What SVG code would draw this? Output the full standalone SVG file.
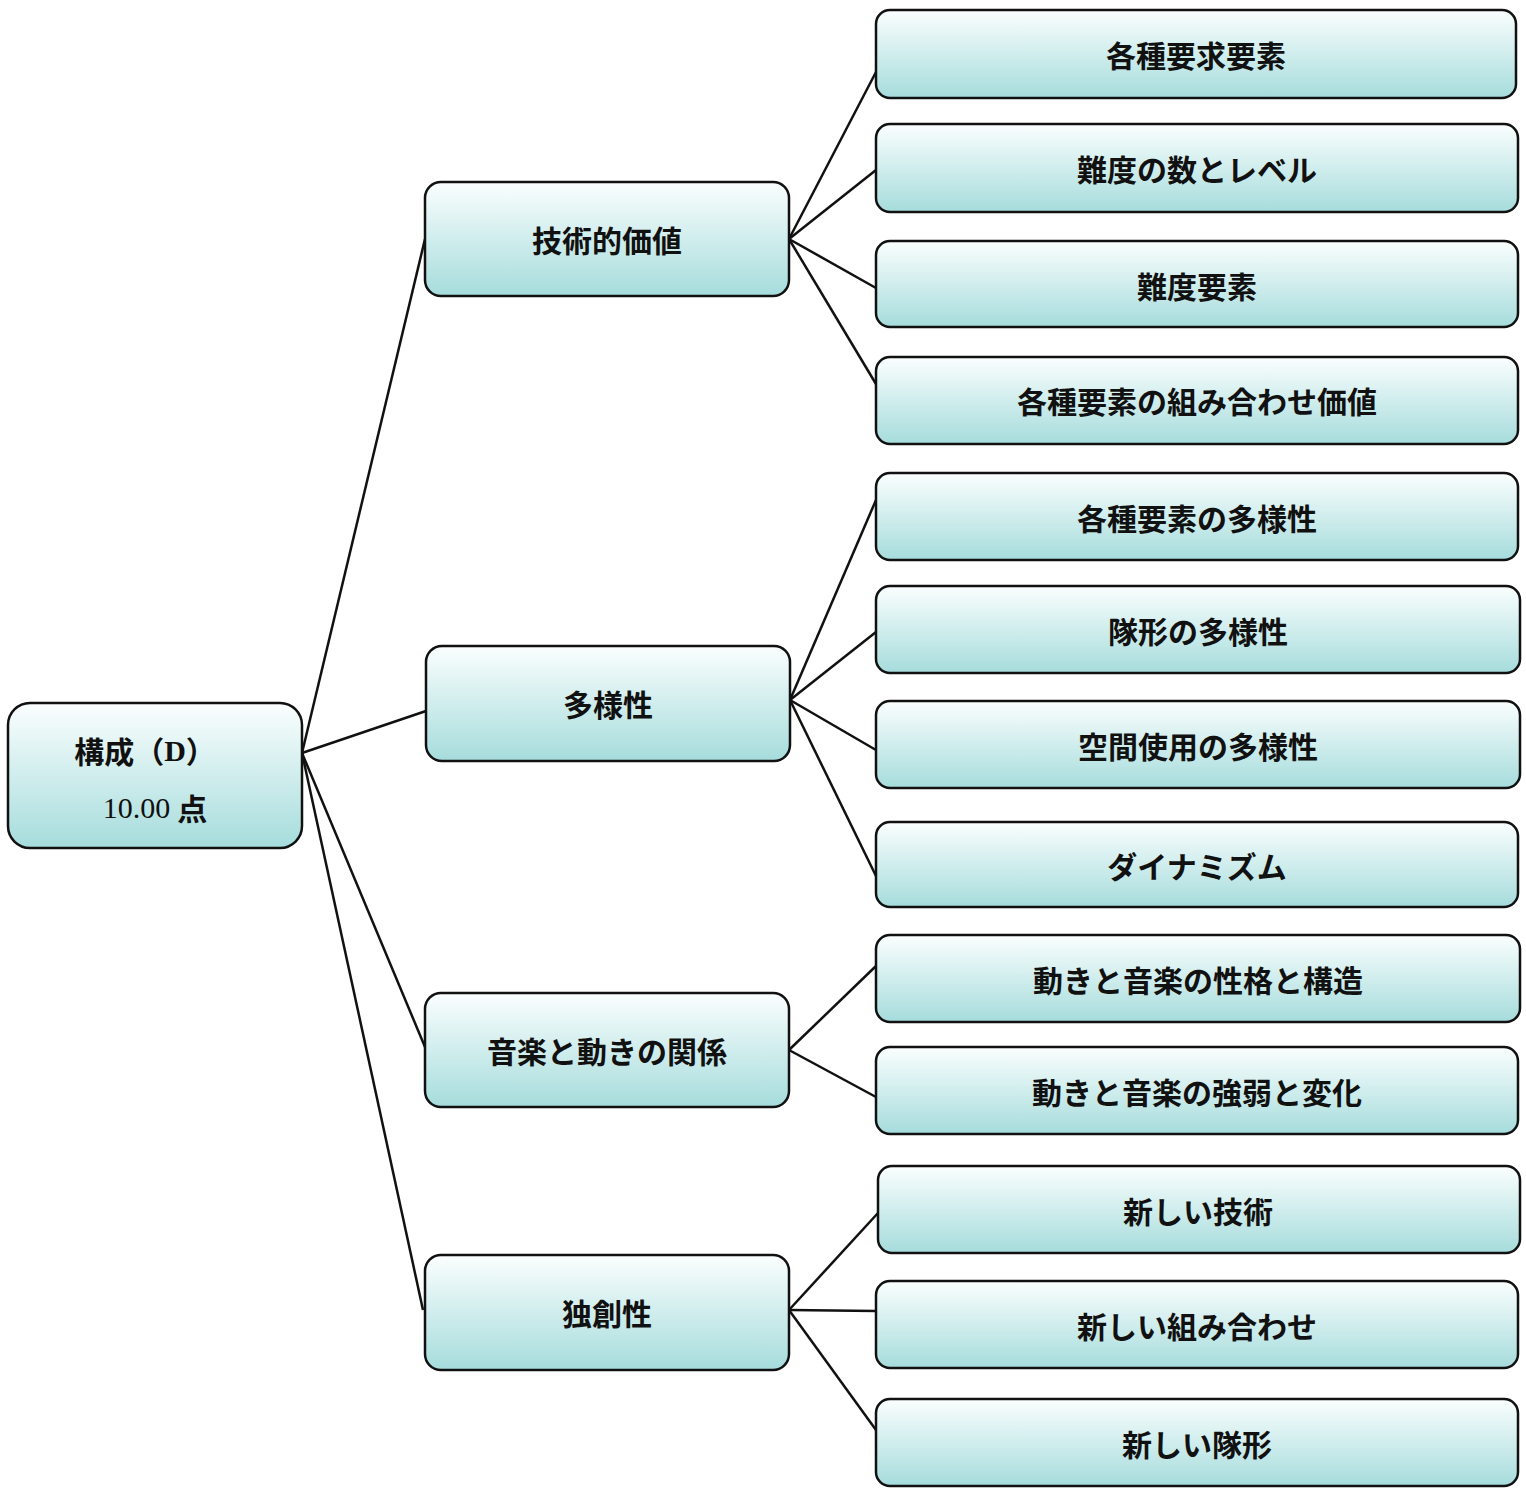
<svg xmlns="http://www.w3.org/2000/svg" width="1526" height="1495" viewBox="0 0 1526 1495">
<defs>
<linearGradient id="g" x1="0" y1="0" x2="0" y2="1"><stop offset="0" stop-color="#fbfefe"/><stop offset="1" stop-color="#a6dcdc"/></linearGradient>
<style>
rect{fill:url(#g);stroke:#111;stroke-width:2.5}
text{font-family:"Noto Sans CJK JP","Liberation Serif",sans-serif;font-size:30px;font-weight:600;fill:#111;text-anchor:middle;dominant-baseline:central}
.c line{stroke:#111;stroke-width:2.5}
</style>
</defs>
<rect x="0" y="0" width="1526" height="1495" style="fill:#fff;stroke:none"/>
<g class="c">
<line x1="302" y1="753" x2="425" y2="239"/><line x1="302" y1="753" x2="426" y2="711"/><line x1="302" y1="753" x2="425" y2="1047"/><line x1="302" y1="753" x2="423" y2="1310"/>
<line x1="789" y1="239" x2="876" y2="72"/><line x1="789" y1="239" x2="876" y2="170"/><line x1="789" y1="239" x2="876" y2="288"/><line x1="789" y1="239" x2="876" y2="384"/>
<line x1="790" y1="700" x2="876" y2="500"/><line x1="790" y1="700" x2="876" y2="632"/><line x1="790" y1="700" x2="876" y2="750"/><line x1="790" y1="700" x2="876" y2="876"/>
<line x1="789" y1="1050" x2="876" y2="966"/><line x1="789" y1="1050" x2="876" y2="1097"/>
<line x1="789" y1="1310" x2="878" y2="1213"/><line x1="789" y1="1310" x2="876" y2="1311"/><line x1="789" y1="1310" x2="876" y2="1430"/>
</g>
<g id="root"><rect x="8" y="703" width="294" height="145" rx="22"/><text x="145" y="750">構成（<tspan font-family="Liberation Serif">D</tspan>）</text><text x="155" y="807"><tspan font-family="Liberation Serif" font-weight="400">10.00</tspan> 点</text></g>
<g id="m1"><rect x="425" y="182" width="364" height="114" rx="16"/><text x="607" y="239">技術的価値</text></g>
<g id="m2"><rect x="426" y="646" width="364" height="115" rx="16"/><text x="608" y="703">多様性</text></g>
<g id="m3"><rect x="425" y="993" width="364" height="114" rx="16"/><text x="607" y="1050">音楽と動きの関係</text></g>
<g id="m4"><rect x="425" y="1255" width="364" height="115" rx="16"/><text x="607" y="1312">独創性</text></g>
<g id="l1"><rect x="876" y="10" width="640" height="88" rx="14"/><text x="1196" y="54">各種要求要素</text></g>
<g id="l2"><rect x="876" y="124" width="642" height="88" rx="14"/><text x="1197" y="168">難度の数とレベル</text></g>
<g id="l3"><rect x="876" y="241" width="642" height="86" rx="14"/><text x="1197" y="285">難度要素</text></g>
<g id="l4"><rect x="876" y="357" width="642" height="87" rx="14"/><text x="1197" y="400">各種要素の組み合わせ価値</text></g>
<g id="l5"><rect x="876" y="473" width="642" height="87" rx="14"/><text x="1197" y="517">各種要素の多様性</text></g>
<g id="l6"><rect x="876" y="586" width="644" height="87" rx="14"/><text x="1198" y="630">隊形の多様性</text></g>
<g id="l7"><rect x="876" y="701" width="644" height="87" rx="14"/><text x="1198" y="745">空間使用の多様性</text></g>
<g id="l8"><rect x="876" y="822" width="642" height="85" rx="14"/><text x="1197" y="865">ダイナミズム</text></g>
<g id="l9"><rect x="876" y="935" width="644" height="87" rx="14"/><text x="1198" y="979">動きと音楽の性格と構造</text></g>
<g id="l10"><rect x="876" y="1047" width="642" height="87" rx="14"/><text x="1197" y="1091">動きと音楽の強弱と変化</text></g>
<g id="l11"><rect x="878" y="1166" width="642" height="87" rx="14"/><text x="1198" y="1210">新しい技術</text></g>
<g id="l12"><rect x="876" y="1281" width="642" height="87" rx="14"/><text x="1197" y="1325">新しい組み合わせ</text></g>
<g id="l13"><rect x="876" y="1399" width="642" height="87" rx="14"/><text x="1197" y="1443">新しい隊形</text></g>
</svg>
